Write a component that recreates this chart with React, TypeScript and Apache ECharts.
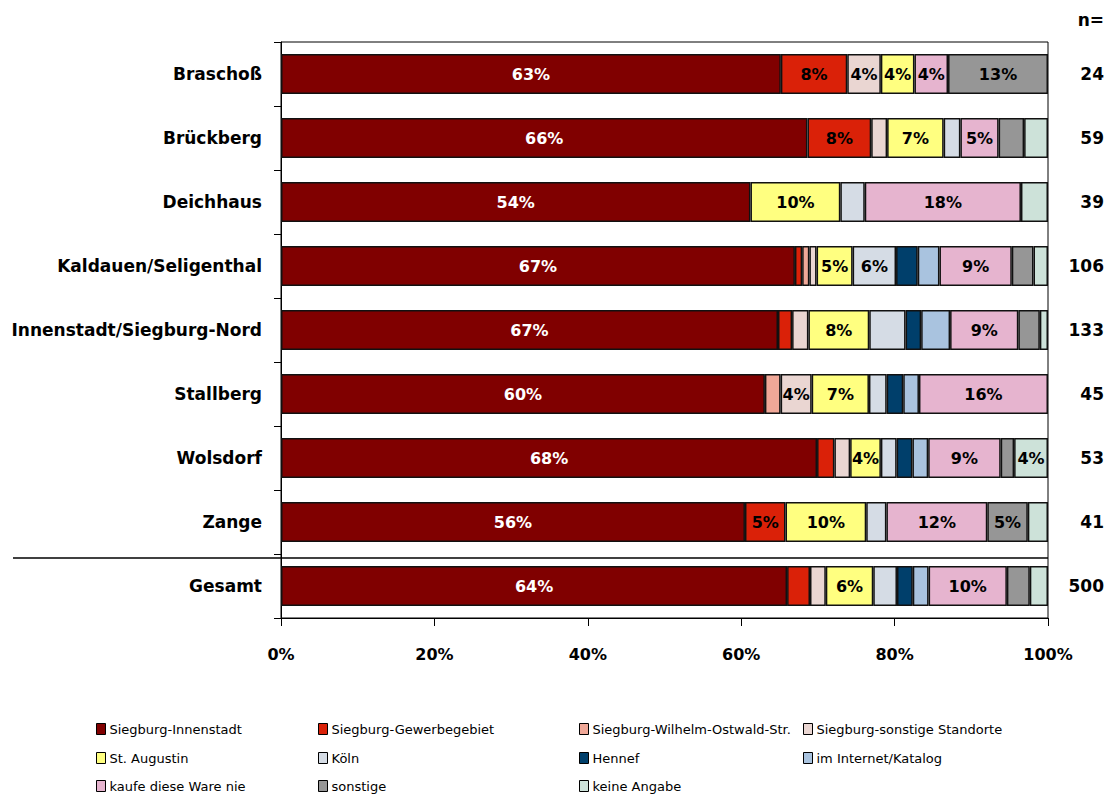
import React, { useEffect, useRef } from "react";
import * as echarts from "echarts";

const categories = [
  "Braschoß",
  "Brückberg",
  "Deichhaus",
  "Kaldauen/Seligenthal",
  "Innenstadt/Siegburg-Nord",
  "Stallberg",
  "Wolsdorf",
  "Zange",
  "Gesamt",
];
const nValues = ["24", "59", "39", "106", "133", "45", "53", "41", "500"];

const seriesNames = [
  "Siegburg-Innenstadt",
  "Siegburg-Gewerbegebiet",
  "Siegburg-Wilhelm-Ostwald-Str.",
  "Siegburg-sonstige Standorte",
  "St. Augustin",
  "Köln",
  "Hennef",
  "im Internet/Katalog",
  "kaufe diese Ware nie",
  "sonstige",
  "keine Angabe",
];
const seriesColors = [
  "#800000",
  "#DA2108",
  "#F0A898",
  "#EAD6D2",
  "#FFFF80",
  "#D5DCE5",
  "#003F6B",
  "#A9C3DF",
  "#E6B4CF",
  "#969696",
  "#CDE2D9",
];

// raw percentages per series, one entry per category (row order as above)
const innenstadt = [62.5, 66.1, 53.8, 67.0, 67.0, 60.0, 68.0, 56.1, 64.0];
const gewerbegebiet = [8.3, 8.0, 0, 0.94, 1.9, 0, 2.2, 4.9, 2.9];
const wilhelmOstwald = [0, 0, 0, 0.94, 0, 1.95, 0, 0, 0];
const sonstigeStandorte = [4.2, 2.0, 0, 0.94, 2.2, 3.85, 2.0, 0, 2.0];
const stAugustin = [4.2, 7.1, 10.3, 4.7, 8.2, 7.1, 3.9, 9.76, 6.0];
const koeln = [0, 2.1, 2.8, 5.66, 4.9, 2.2, 2.0, 2.44, 3.0];
const hennef = [0, 0, 0, 2.83, 2.1, 2.05, 2.0, 0, 2.0];
const internet = [0, 0, 0, 2.83, 3.9, 1.95, 2.0, 0, 2.0];
const kaufeNie = [4.2, 4.8, 17.9, 9.43, 9.2, 16.0, 9.2, 12.2, 9.9];
const sonstige = [12.5, 3.2, 0, 2.83, 2.9, 0, 1.7, 4.9, 2.9];
const keineAngabe = [0, 3.0, 3.1, 1.89, 1.1, 0, 4.3, 2.44, 2.3];

const seriesValues = [
  innenstadt,
  gewerbegebiet,
  wilhelmOstwald,
  sonstigeStandorte,
  stAugustin,
  koeln,
  hennef,
  internet,
  kaufeNie,
  sonstige,
  keineAngabe,
];

// labels that were removed in the original despite being >= 4%
const unlabeled: [string, string][] = [
  ["Innenstadt/Siegburg-Nord", "Köln"],
  ["Innenstadt/Siegburg-Nord", "im Internet/Katalog"],
];

// legend layout: 4 columns, filled row by row in series order
const legendColumnX = [96, 318, 579, 803];
const legendRowY = [722, 751, 779];

const FONT = "DejaVu Sans";

export default function App() {
  const ref = useRef<HTMLDivElement>(null);

  useEffect(() => {
    if (!ref.current) return;
    const chart = echarts.init(ref.current, null, { renderer: "svg" });

    const totals = categories.map((_, i) =>
      seriesValues.reduce((s, arr) => s + arr[i], 0)
    );

    const series = seriesNames.map((name, si) => ({
      name,
      type: "bar",
      stack: "total",
      barWidth: 40,
      itemStyle: {
        color: seriesColors[si],
        borderColor: "#111",
        borderWidth: 1.5,
      },
      data: seriesValues[si].map((v, ci) => {
        if (!v) return null;
        const hide =
          Math.round(v) < 4 ||
          unlabeled.some(([c, s]) => c === categories[ci] && s === name);
        return {
          value: (v / totals[ci]) * 100,
          raw: v,
          label: { show: !hide },
        };
      }),
      label: {
        show: true,
        position: "inside",
        fontFamily: FONT,
        fontWeight: "bold",
        fontSize: 16,
        color: si === 0 ? "#ffffff" : "#000000",
        formatter: (p: any) => Math.round(p.data.raw) + "%",
      },
    }));

    const legends = seriesNames.map((name, i) => ({
      data: [name],
      orient: "horizontal",
      left: legendColumnX[i % 4],
      top: legendRowY[Math.floor(i / 4)],
      itemWidth: 9,
      itemHeight: 11,
      itemGap: 0,
      padding: 0,
      icon: "rect",
      itemStyle: { borderColor: "#000", borderWidth: 1 },
      textStyle: {
        fontFamily: FONT,
        fontSize: 13,
        color: "#000",
        lineHeight: 14,
        padding: [0, 0, 0, -1],
      },
      selectedMode: false,
    }));

    chart.setOption({
      animation: false,
      backgroundColor: "#ffffff",
      grid: {
        left: 281,
        right: 64,
        top: 42,
        bottom: 176,
        show: true,
        borderColor: "#000",
        borderWidth: 1,
        backgroundColor: "transparent",
      },
      legend: legends,
      xAxis: {
        type: "value",
        min: 0,
        max: 100,
        interval: 20,
        axisLine: { show: true, lineStyle: { color: "#000", width: 1 } },
        axisTick: { show: true, length: 8, lineStyle: { color: "#000" } },
        splitLine: { show: false },
        axisLabel: {
          formatter: "{value}%",
          fontFamily: FONT,
          fontWeight: "bold",
          fontSize: 16,
          color: "#000",
          margin: 28,
        },
      },
      yAxis: [
        {
          type: "category",
          data: categories,
          inverse: true,
          axisLine: { show: true, lineStyle: { color: "#000", width: 1 } },
          axisTick: { show: true, length: 7, lineStyle: { color: "#000" } },
          axisLabel: {
            fontFamily: FONT,
            fontWeight: "bold",
            fontSize: 17,
            color: "#000",
            margin: 19,
          },
        },
        {
          type: "category",
          data: nValues,
          inverse: true,
          position: "right",
          axisLine: { show: false },
          axisTick: { show: false },
          axisLabel: {
            fontFamily: FONT,
            fontWeight: "bold",
            fontSize: 17,
            color: "#000",
            margin: 56,
            align: "right",
          },
        },
      ],
      series,
    });

    // separator line between the last district and "Gesamt"
    const y1 = chart.convertToPixel({ yAxisIndex: 0 }, categories[categories.length - 2]) as number;
    const y2 = chart.convertToPixel({ yAxisIndex: 0 }, categories[categories.length - 1]) as number;
    const xEnd = chart.convertToPixel({ xAxisIndex: 0 }, 100) as number;
    const ySep = (y1 + y2) / 2 + 4;
    chart.setOption({
      graphic: [
        {
          type: "line",
          shape: { x1: 13, y1: ySep, x2: xEnd, y2: ySep },
          style: { stroke: "#000", lineWidth: 1.5 },
          z: 100,
        },
        {
          type: "text",
          right: 8,
          top: 11,
          style: {
            text: "n=",
            fontFamily: FONT,
            fontWeight: "bold",
            fontSize: 17,
            fill: "#000",
          },
        },
      ],
    });

    return () => chart.dispose();
  }, []);

  return (
    <div
      ref={ref}
      style={{ position: "absolute", left: 0, top: 0, width: 1112, height: 794 }}
    />
  );
}
